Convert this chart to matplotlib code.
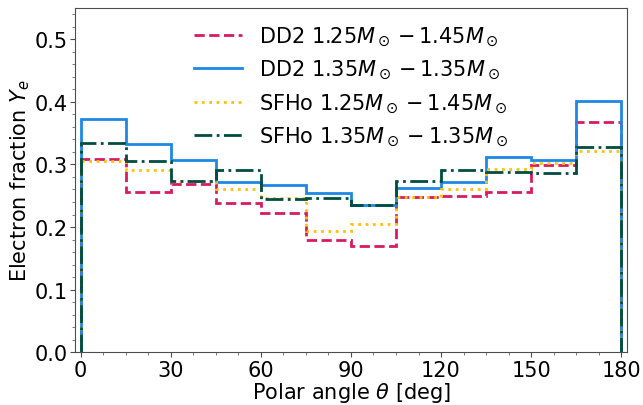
import matplotlib
matplotlib.use("Agg")
import matplotlib.pyplot as plt
import numpy as np
from matplotlib.ticker import MultipleLocator

# Bin edges in polar angle (deg)
theta_edges = np.arange(0, 181, 15)

# Mass-weighted electron fraction per angular bin
ye_dd2_125_145 = [0.308, 0.256, 0.269, 0.238, 0.223, 0.180, 0.170, 0.248, 0.249, 0.256, 0.299, 0.367]
ye_dd2_135_135 = [0.373, 0.332, 0.307, 0.272, 0.267, 0.255, 0.235, 0.263, 0.272, 0.312, 0.307, 0.401]
ye_sfho_125_145 = [0.306, 0.291, 0.273, 0.261, 0.247, 0.193, 0.205, 0.248, 0.260, 0.293, 0.302, 0.322]
ye_sfho_135_135 = [0.335, 0.305, 0.274, 0.291, 0.245, 0.247, 0.235, 0.274, 0.291, 0.288, 0.287, 0.328]

labels = [
    r"DD2 $1.25M_\odot - 1.45M_\odot$",
    r"DD2 $1.35M_\odot - 1.35M_\odot$",
    r"SFHo $1.25M_\odot - 1.45M_\odot$",
    r"SFHo $1.35M_\odot - 1.35M_\odot$",
]
colors = ["#D81B60", "#1E88E5", "#FFC107", "#004D40"]
styles = ["--", "-", ":", "-."]

fig = plt.figure(figsize=(6.43, 4.06), dpi=100)
ax = fig.add_axes([0.117, 0.13, 0.858, 0.848])

for vals, lab, c, ls in zip([ye_dd2_125_145, ye_dd2_135_135, ye_sfho_125_145, ye_sfho_135_135],
                            labels, colors, styles):
    ax.stairs(vals, theta_edges, baseline=0, color=c, linestyle=ls, linewidth=2, label=lab)

ax.set_xlim(-1.8, 181.9)
ax.set_ylim(0, 0.55)
ax.set_xticks(np.arange(0, 181, 30))
ax.set_yticks(np.arange(0, 0.51, 0.1))
ax.xaxis.set_minor_locator(MultipleLocator(7.5))
ax.yaxis.set_minor_locator(MultipleLocator(0.02))
ax.tick_params(which="major", labelsize=15, length=3.5, width=0.8, color="0.3", pad=2)
ax.tick_params(which="minor", length=2, width=0.6, color="0.4")
for sp in ax.spines.values():
    sp.set_color("0.3")
    sp.set_linewidth(0.8)

ax.set_xlabel(r"Polar angle $\theta$ [deg]", fontsize=15, labelpad=0)
ax.set_ylabel(r"Electron fraction $Y_e$", fontsize=15, labelpad=2)

ax.legend(loc="upper center", fontsize=15, frameon=False, handlelength=2.3,
          borderaxespad=0.4, labelspacing=0.5, bbox_to_anchor=(0.5, 1.0))

fig.savefig("out.png", dpi=100)
